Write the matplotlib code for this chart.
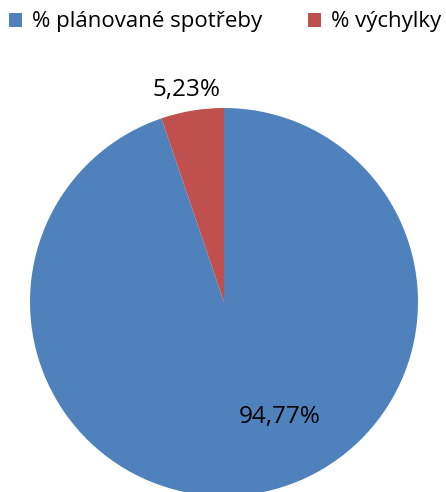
import matplotlib
matplotlib.use("Agg")
import matplotlib.pyplot as plt
import numpy as np

labels = ["% plánované spotřeby", "% výchylky"]
values = [94.77, 5.23]
colors = ["#4F81BD", "#C0504D"]

plt.rcParams['font.family'] = ['Open Sans', 'DejaVu Sans']

fig = plt.figure(figsize=(4.46, 4.92), dpi=100)
# pie axes: square box so the circle fills it exactly
ax = fig.add_axes([30 / 446, -4 / 492, 388 / 446, 388 / 492])

wedges, texts, autotexts = ax.pie(
    values, colors=colors, startangle=90, counterclock=False,
    autopct=lambda p: ("%.2f%%" % p).replace(".", ","),
    textprops={'fontsize': 17.5, 'color': 'black'},
    wedgeprops={'linewidth': 0},
)
ax.set_xlim(-1, 1)
ax.set_ylim(-1, 1)

# label placement (best fit style)
autotexts[0].set_position((0.66 * np.cos(np.radians(-64)), 0.66 * np.sin(np.radians(-64))))
autotexts[1].set_position((1.11 * np.cos(np.radians(100)), 1.11 * np.sin(np.radians(100))))

leg = fig.legend(wedges, labels, loc="center left", bbox_to_anchor=(9 / 446, 1 - 22 / 492),
                 ncol=2, frameon=False, fontsize=16, handlelength=0.6, handleheight=0.6,
                 handletextpad=0.45, columnspacing=2.05, borderaxespad=0, borderpad=0)

fig.savefig("out.png", dpi=100)
